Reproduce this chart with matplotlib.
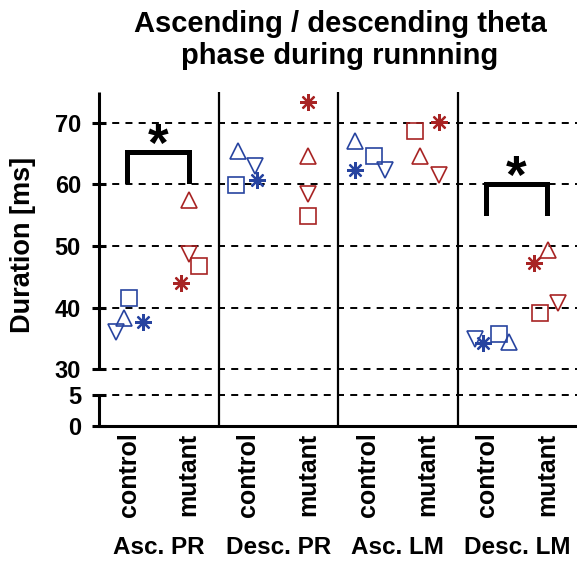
import matplotlib
matplotlib.use("Agg")
import matplotlib.pyplot as plt
import numpy as np

plt.rcParams["font.family"] = ["Liberation Sans", "DejaVu Sans"]
plt.rcParams["font.weight"] = "bold"

# data (ms)
groups = ["Asc. PR", "Desc. PR", "Asc. LM", "Desc. LM"]
conditions = ["control", "mutant"]

control_square = [41.6, 59.9, 64.7, 35.8]
control_up = [38.3, 65.4, 67.0, 34.4]
control_down = [36.0, 63.0, 62.3, 35.0]
control_star = [37.7, 60.7, 62.4, 34.3]

mutant_square = [46.7, 54.9, 68.6, 39.1]
mutant_up = [57.5, 64.6, 64.7, 49.4]
mutant_down = [48.7, 58.5, 61.6, 40.7]
mutant_star = [44.0, 73.3, 70.2, 47.2]

# horizontal jitter of each animal around its condition slot
control_square_dx = [0.0, -0.43, 0.20, 0.38]
control_up_dx = [-0.16, -0.34, -0.42, 0.72]
control_down_dx = [-0.43, 0.22, 0.56, -0.41]
control_star_dx = [0.46, 0.28, -0.43, -0.14]

mutant_square_dx = [0.35, 0.0, -0.43, -0.25]
mutant_up_dx = [0.0, 0.0, -0.24, 0.03]
mutant_down_dx = [0.0, 0.0, 0.37, 0.38]
mutant_star_dx = [-0.26, 0.0, 0.37, -0.43]

sig_groups = [0, 3]
sig_top = [65.2, 60.0]

yticks = [0, 5, 30, 40, 50, 60, 70]
grid_y = [5, 30, 40, 50, 60, 70]

BLUE = "#2744a0"
RED = "#a82424"
GAP = 4.1  # height of the axis break, in scaled units


def fwd(v):
    v = np.asarray(v, dtype=float)
    return np.where(v >= 30, v - 30 + 5 + GAP,
                    np.where(v <= 5, v, 5 + (v - 5) * GAP / 25))


def inv(t):
    t = np.asarray(t, dtype=float)
    return np.where(t >= 5 + GAP, t - 5 - GAP + 30,
                    np.where(t <= 5, t, 5 + (t - 5) * 25 / GAP))


fig = plt.figure(figsize=(5.77, 5.61), dpi=100)
ax = fig.add_axes([0.1716, 0.2415, 0.8284, 0.5945])
ax.set_yscale("function", functions=(fwd, inv))
ax.set_xlim(0, 16)
ax.set_ylim(0, 75)

ax.hlines(grid_y, 0, 16, colors="black", linewidth=1.4,
          linestyles=(0, (3.6, 3.2)), zorder=1)
ax.vlines([4, 8, 12], 0, 75, colors="black", linewidth=1.6, zorder=1)

series = [
    ("s", control_square, control_square_dx, mutant_square, mutant_square_dx),
    ("^", control_up, control_up_dx, mutant_up, mutant_up_dx),
    ("v", control_down, control_down_dx, mutant_down, mutant_down_dx),
    ((8, 2, 0), control_star, control_star_dx, mutant_star, mutant_star_dx),
]
for marker, c_vals, c_dx, m_vals, m_dx in series:
    star = not isinstance(marker, str)
    for vals, dx, slot, color in [(c_vals, c_dx, 1, BLUE), (m_vals, m_dx, 3, RED)]:
        xs = [4 * i + slot + d for i, d in enumerate(dx)]
        ax.plot(xs, vals, linestyle="none", marker=marker, markersize=12,
                markerfacecolor="none", markeredgecolor=color,
                markeredgewidth=1.6 if star else 1.2, zorder=3)

for g, top in zip(sig_groups, sig_top):
    x0, x1 = 4 * g + 0.95, 4 * g + 3.0
    ax.plot([x0, x0, x1, x1], [top - 4.7, top, top, top - 4.7],
            color="black", linewidth=3.6, solid_joinstyle="miter", zorder=4)
    ax.text((x0 + x1) / 2, top - 1.4, "*", ha="center", va="baseline",
            fontsize=38, fontweight="bold")

# broken left axis
for s in ["left", "top", "right"]:
    ax.spines[s].set_visible(False)
ax.spines["bottom"].set_linewidth(2.2)
for lo, hi in [(0, 5), (30, 75)]:
    ax.plot([0, 0], [lo, hi], color="black", linewidth=2.2,
            solid_capstyle="butt", clip_on=False, zorder=5)

ax.set_yticks(yticks)
ax.set_yticklabels([str(t) for t in yticks])
ax.yaxis.set_minor_locator(matplotlib.ticker.NullLocator())
ax.tick_params(axis="y", direction="inout", length=10, width=2.2,
               labelsize=17, pad=8)

ax.set_xticks([4 * i + s for i in range(len(groups)) for s in (1, 3)])
ax.set_xticklabels(conditions * len(groups), rotation=90, fontsize=18,
                   fontweight="bold")
ax.tick_params(axis="x", length=0, pad=5)

for i, name in enumerate(groups):
    ax.text(4 * i + 2, -0.366, name, transform=ax.get_xaxis_transform(),
            ha="center", va="center", fontsize=17.5, fontweight="bold")

ax.set_ylabel("Duration [ms]", fontsize=19.5, fontweight="bold")
ax.yaxis.set_label_coords(-0.132, 0.541)

fig.text(340 / 577, 1 - 40 / 561,
         "Ascending / descending theta\nphase during runnning",
         ha="center", va="center", fontsize=21, fontweight="bold",
         linespacing=1.2)

fig.savefig("out.png", dpi=100)
plt.close(fig)
